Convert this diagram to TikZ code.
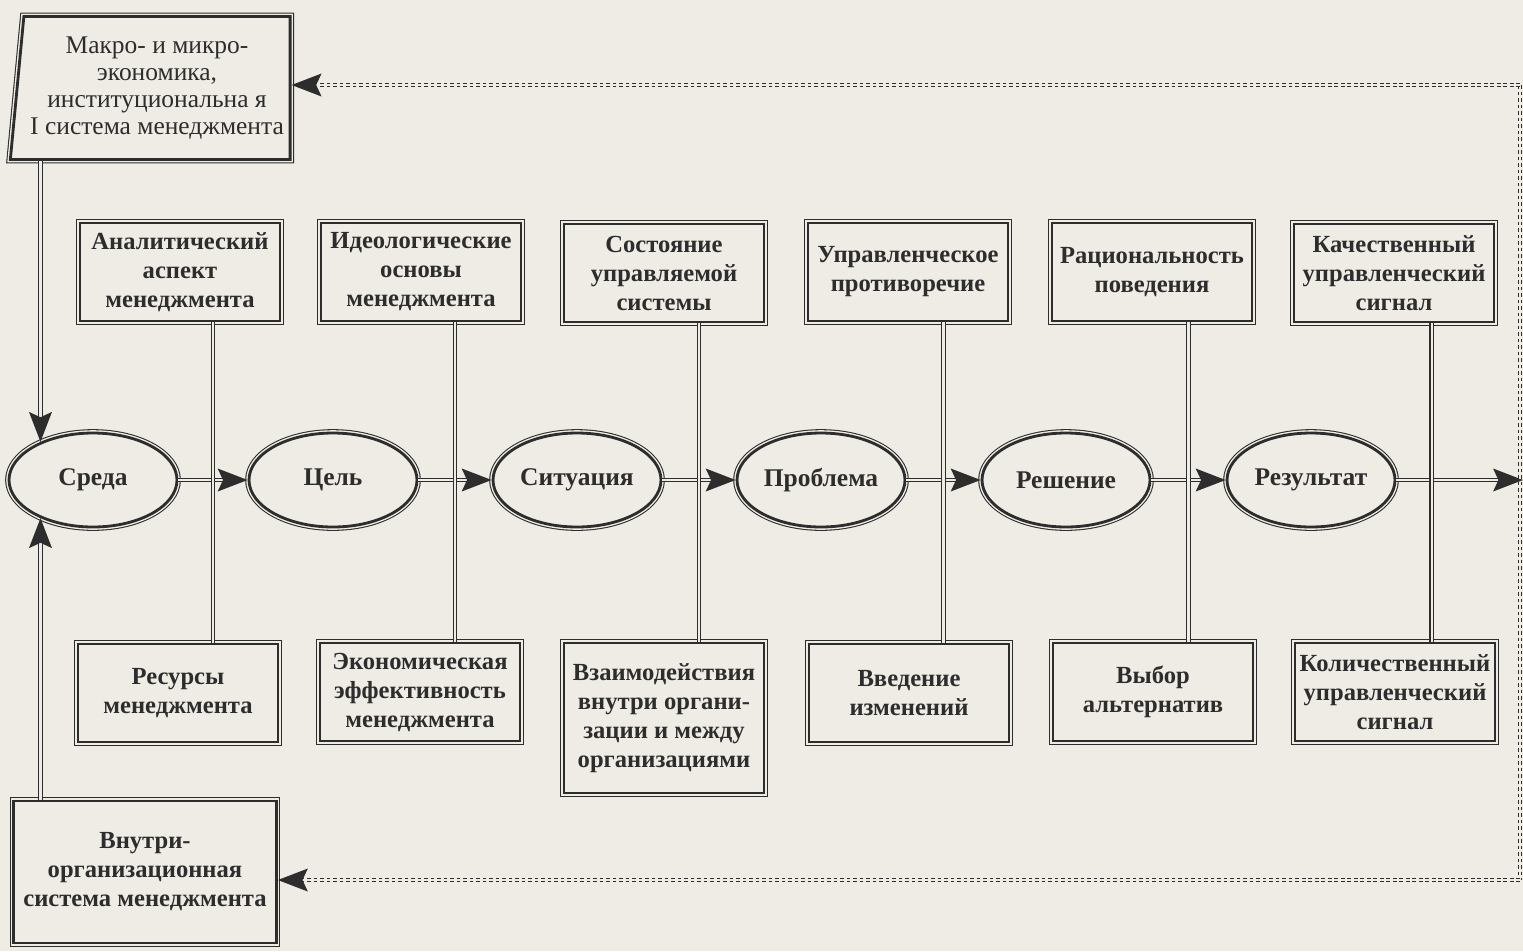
\documentclass[tikz,border=0pt]{standalone}
\usepackage{fontspec}
\setmainfont{Liberation Serif}
\usetikzlibrary{positioning,shapes.geometric,arrows.meta}
\definecolor{paper}{RGB}{238,236,229}
\definecolor{ink}{RGB}{45,45,45}
\tikzset{
  frame/.style={fill=paper, draw=ink, line width=1.6pt, preaction={draw=ink, line width=4.4pt}, preaction={draw=paper, line width=3.2pt}},
  fact/.style={frame, rectangle, minimum width=4cm, minimum height=1.96cm, align=center, inner sep=1pt, text=ink, font=\fontsize{14}{16.5}\selectfont\bfseries},
  stage/.style={frame, ellipse, minimum width=3.36cm, minimum height=1.88cm, inner xsep=-0.3cm, inner ysep=0pt, text=ink, font=\fontsize{14.5}{16}\selectfont\bfseries},
  sys/.style={frame, align=center, inner sep=1pt, text=ink},
  link/.style={draw=ink, double=paper, double distance=1.3pt, line width=0.75pt},
  tip/.style={-{Stealth[length=17pt,width=13pt,inset=3pt]}},
  flow/.style={link, tip},
  fb/.style={draw=ink, double=paper, double distance=0.7pt, line width=0.8pt, dash pattern=on 2.2pt off 1.5pt}
}
\begin{document}
\begin{tikzpicture}[x=0.02cm, y=-0.02cm]
	\fill[paper] (0,0) rectangle (1523,951);
	\useasboundingbox (0,0) rectangle (1523,951);
	% outer systems
	\node[sys, trapezium, trapezium left angle=83, trapezium right angle=90, trapezium stretches=true, minimum width=5.6cm, minimum height=2.86cm, font=\fontsize{14.5}{15.4}\selectfont] (macro) at (157,88) {Макро- и микро-\\экономика,\\институциональна я\\I система менеджмента};
	\node[sys, rectangle, minimum width=5.26cm, minimum height=2.84cm, font=\fontsize{14}{16.5}\selectfont\bfseries] (intra) at (145,872) {Внутри-\\организационная\\система менеджмента};
	% stages
	\node[stage] (sreda) at (93,480) {Среда};
	\node[stage] (cel) at (333,480) {Цель};
	\node[stage] (sit) at (577,480) {Ситуация};
	\node[stage] (probl) at (821,480) {Проблема};
	\node[stage] (resh) at (1066,480) {Решение};
	\node[stage] (rez) at (1311,480) {Результат};
	\coordinate (out) at (1523,480);
	% upper factors
	\node[fact] (t1) at (180,272) {Аналитический\\аспект\\менеджмента};
	\node[fact] (t2) at (421,272) {Идеологические\\основы\\менеджмента};
	\node[fact] (t3) at (664,273) {Состояние\\управляемой\\системы};
	\node[fact] (t4) at (908,272) {Управленческое\\противоречие};
	\node[fact] (t5) at (1152,272) {Рациональность\\поведения};
	\node[fact] (t6) at (1394,273) {Качественный\\управленческий\\сигнал};
	% lower factors
	\node[fact] (b1) at (178,693) {Ресурсы\\менеджмента};
	\node[fact] (b2) at (420,692) {Экономическая\\эффективность\\менеджмента};
	\node[fact, minimum height=3cm] (b3) at (664,718) {Взаимодействия\\внутри органи-\\зации и между\\организациями};
	\node[fact] (b4) at (909,693) {Введение\\изменений};
	\node[fact] (b5) at (1153,692) {Выбор\\альтернатив};
	\node[fact] (b6) at (1395,692) {Количественный\\управленческий\\сигнал};
	%
	\draw[flow] (sreda) -- (cel) coordinate[midway] (m1);
	\draw[flow] (cel) -- (sit) coordinate[midway] (m2);
	\draw[flow] (sit) -- (probl) coordinate[midway] (m3);
	\draw[flow] (probl) -- (resh) coordinate[midway] (m4);
	\draw[flow] (resh) -- (rez) coordinate[midway] (m5);
	\draw[flow] (rez) -- (out) coordinate[pos=0.28] (m6);
	%
	\draw[link] (t1.south -| m1) -- (b1.north -| m1);
	\draw[link] (t2.south -| m2) -- (b2.north -| m2);
	\draw[link] (t3.south -| m3) -- (b3.north -| m3);
	\draw[link] (t4.south -| m4) -- (b4.north -| m4);
	\draw[link] (t5.south -| m5) -- (b5.north -| m5);
	\draw[link] (t6.south -| m6) -- (b6.north -| m6);
	%
	\draw[flow] (macro.south -| sreda.144) -- (sreda.144);
	\draw[flow] (intra.north -| sreda.216) -- (sreda.216);
	% feedback
	\coordinate (fbtop) at (1520,85);
	\coordinate (fbbot) at (1520,880);
	\draw[fb] (fbtop) -- (fbbot);
	\draw[fb, tip] (fbtop) -- (fbtop -| macro.east);
	\draw[fb, tip] (fbbot) -- (fbbot -| intra.east);
\end{tikzpicture}
\end{document}
